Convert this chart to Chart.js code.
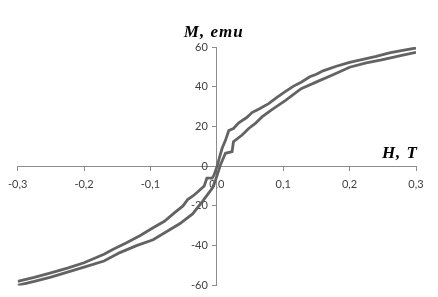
<!DOCTYPE html>
<html>
<head>
<meta charset="utf-8">
<script src="https://cdn.jsdelivr.net/npm/chart.js@4/dist/chart.umd.min.js"></script>
<style>
html,body{margin:0;padding:0;background:#fff;}
#wrap{width:438px;height:297px;}
</style>
</head>
<body>
<div id="wrap"><canvas id="c" width="438" height="297"></canvas></div>
<script>
// Descending branch (field from +0.3 T to -0.3 T)
const H_down = [0.300,0.280,0.260,0.240,0.220,0.200,0.180,0.160,0.150,0.140,0.127,0.115,0.103,0.090,0.078,0.065,0.053,0.045,0.033,0.025,0.018,0.013,0.008,0.004,0.001,-0.004,-0.007,-0.015,-0.019,-0.029,-0.036,-0.044,-0.051,-0.064,-0.079,-0.096,-0.116,-0.136,-0.156,-0.170,-0.200,-0.225,-0.250,-0.275,-0.300];
const M_down = [59.5,58.3,57.0,55.3,53.8,52.3,50.3,48.0,46.3,45.0,42.3,40.2,37.5,34.5,31.5,29.0,27.0,24.5,21.8,19.0,18.0,13.0,9.0,4.5,0.5,-4.3,-6.0,-6.0,-10.0,-13.0,-15.0,-16.8,-20.0,-23.5,-27.7,-31.0,-35.0,-38.5,-41.8,-44.3,-48.6,-51.3,-53.7,-56.0,-58.0];
// Ascending branch (field from -0.3 T to +0.3 T)
const H_up = [-0.300,-0.275,-0.250,-0.225,-0.200,-0.170,-0.146,-0.121,-0.096,-0.071,-0.056,-0.0365,-0.0216,-0.0067,-0.0018,0.0055,0.013,0.023,0.025,0.038,0.048,0.058,0.068,0.083,0.103,0.127,0.152,0.175,0.200,0.225,0.250,0.275,0.300];
const M_up = [-60.0,-58.0,-55.8,-53.3,-50.8,-47.7,-43.5,-40.0,-37.0,-32.0,-29.0,-24.0,-17.7,-11.0,-6.8,0.7,6.5,7.3,12.3,15.7,19.0,21.5,24.8,28.5,33.0,39.0,42.7,46.0,49.8,52.0,53.7,55.5,57.3];
const xTicks = [-0.3,-0.2,-0.1,0.0,0.1,0.2,0.3];
const yTicks = [-60,-40,-20,0,20,40,60];
const xTitle = 'H, T';
const yTitle = 'M, emu';

const toPts = (xs, ys) => xs.map((x, i) => ({x: x, y: ys[i]}));
const lineColor = '#636363';

// shift y tick labels away from the centred axis (Chart.js puts them flush on it)
const yLabelShift = {
  id: 'yLabelShift',
  beforeDraw(chart) {
    try {
      const s = chart.scales.y;
      const items = s.getLabelItems(chart.chartArea);
      if (!s._shifted) {
        items.forEach(it => { it.options.translation[0] -= 9; });
        s._shifted = true;
      }
    } catch (e) {}
  },
  afterUpdate(chart) { if (chart.scales.y) chart.scales.y._shifted = false; }
};

const titles = {
  id: 'axisTitles',
  afterDraw(chart) {
    const ctx = chart.ctx;
    const xs = chart.scales.x, ys = chart.scales.y;
    const x0 = xs.getPixelForValue(0), y0 = ys.getPixelForValue(0);
    ctx.save();
    ctx.fillStyle = '#000';
    ctx.font = 'bold italic 17px "Liberation Serif"';
    try { ctx.letterSpacing = '1px'; } catch (e) {}
    ctx.textBaseline = 'alphabetic';
    ctx.textAlign = 'left';
    ctx.fillText(yTitle, x0 - 33, chart.chartArea.top - 10);
    ctx.textAlign = 'right';
    ctx.fillText(xTitle, chart.chartArea.right + 2, y0 - 8);
    ctx.restore();
  }
};

new Chart(document.getElementById('c'), {
  type: 'scatter',
  data: {
    datasets: [
      {data: toPts(H_down, M_down), showLine: true, borderColor: lineColor, borderWidth: 2.8, pointRadius: 0, tension: 0, fill: false},
      {data: toPts(H_up, M_up), showLine: true, borderColor: lineColor, borderWidth: 2.8, pointRadius: 0, tension: 0, fill: false}
    ]
  },
  options: {
    responsive: false,
    animation: false,
    layout: {padding: {left: 13, right: 22, top: 47, bottom: 9}},
    plugins: {legend: {display: false}, tooltip: {enabled: false}},
    scales: {
      x: {
        type: 'linear', min: -0.3, max: 0.3,
        position: {y: 0},
        afterBuildTicks: s => { s.ticks = xTicks.map(v => ({value: v})); },
        ticks: {font: {family: 'Lato', size: 11}, color: '#404040', padding: 8,
          callback: v => Number(v).toFixed(1).replace('.', ',')},
        grid: {drawOnChartArea: false, drawTicks: true, tickLength: 4, color: '#8c8c8c'},
        border: {color: '#8c8c8c', width: 1}
      },
      y: {
        type: 'linear', min: -60, max: 60,
        position: {x: 0},
        afterBuildTicks: s => { s.ticks = yTicks.map(v => ({value: v})); },
        ticks: {font: {family: 'Lato', size: 11}, color: '#404040', padding: 5,
          callback: v => String(v)},
        grid: {drawOnChartArea: false, drawTicks: true, tickLength: 4, color: '#8c8c8c'},
        border: {color: '#8c8c8c', width: 1}
      }
    }
  },
  plugins: [yLabelShift, titles]
});
</script>
</body>
</html>
